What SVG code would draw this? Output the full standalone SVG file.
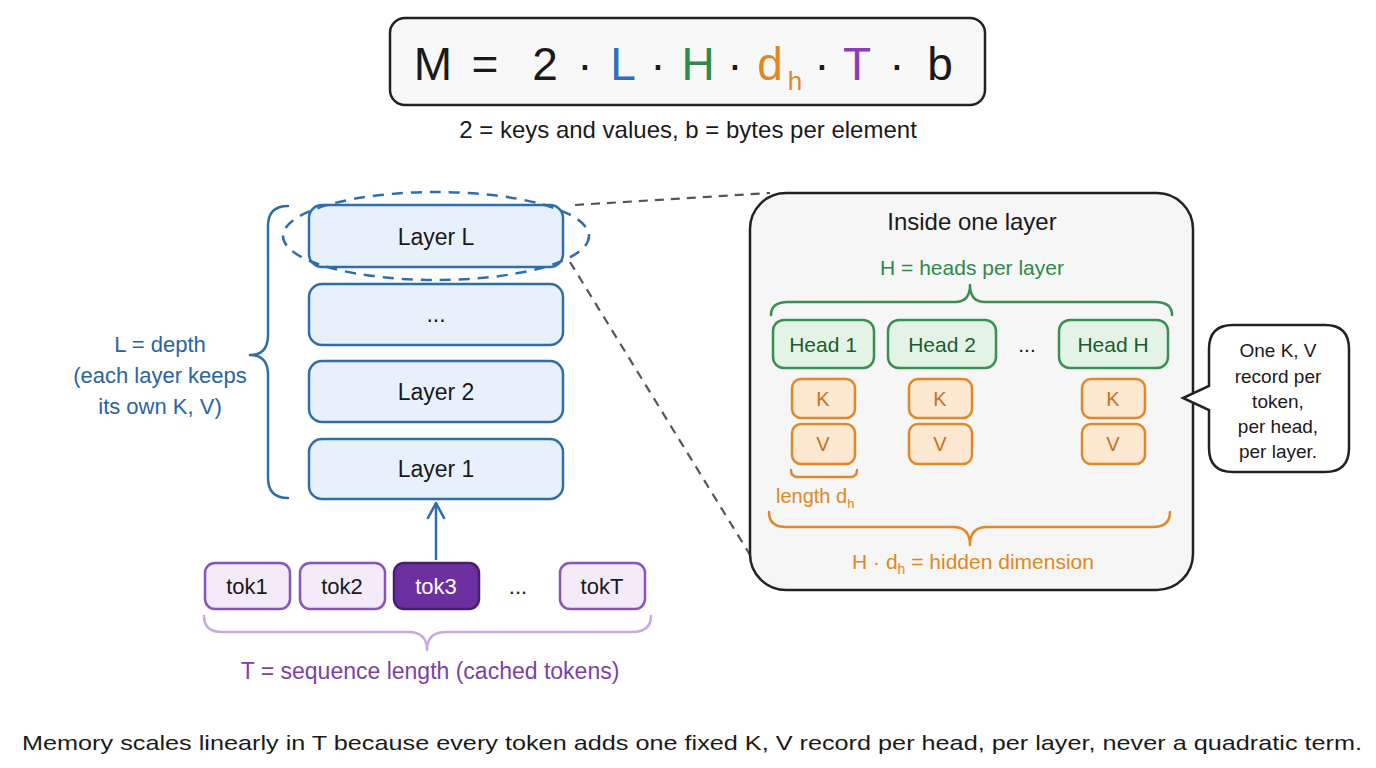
<svg xmlns="http://www.w3.org/2000/svg" width="1376" height="768" viewBox="0 0 1376 768">
<defs>
<style>
text{font-family:"Liberation Sans","Open Sans",sans-serif;fill:#1a1a1a}
.c{text-anchor:middle}
.layer rect{fill:#e8f1fb;stroke:#2f6ea8;stroke-width:2.5}
.layer text{font-size:23px}
.tok rect{fill:#f3eafa;stroke:#8a55b8;stroke-width:2.5}
.tok text{font-size:22px}
.head rect{fill:#e3f3e6;stroke:#3a8f52;stroke-width:2.5}
.head text{font-size:21px;fill:#1f5a30}
.kv rect{fill:#fde9d2;stroke:#e0882a;stroke-width:2.5}
.kv text{font-size:20px;fill:#c8701a}
.blue{fill:#2a64a0}
.green{fill:#2e8b4a}
.orange{fill:#e0881f}
.purple{fill:#7b3fa8}
.brace{fill:none;stroke-width:2.5;stroke-linecap:round;stroke-linejoin:round}
</style>
<marker id="ah" viewBox="0 0 20 20" refX="17" refY="10" markerWidth="20" markerHeight="20" markerUnits="userSpaceOnUse" orient="auto">
<path d="M2,2 L17,10 L2,18" fill="none" stroke="#2f6ea8" stroke-width="2.6" stroke-linecap="round" stroke-linejoin="round"/>
</marker>
</defs>
<rect width="1376" height="768" fill="#ffffff"/>

<g id="formula">
<rect x="390" y="18" width="595" height="87" rx="15" fill="#f8f8f8" stroke="#222" stroke-width="2.5"/>
<g font-size="46">
<text x="433" y="80" class="c">M</text>
<text x="485" y="80" class="c">=</text>
<text x="545" y="80" class="c">2</text>
<text x="585" y="80" class="c">·</text>
<text x="623" y="80" class="c" style="fill:#2a6fc0">L</text>
<text x="658" y="80" class="c">·</text>
<text x="698" y="80" class="c green">H</text>
<text x="735" y="80" class="c">·</text>
<text x="770" y="80" class="c orange">d</text>
<text x="795" y="90" font-size="26" class="c orange">h</text>
<text x="822" y="80" class="c">·</text>
<text x="857" y="80" class="c" style="fill:#8a3fb8">T</text>
<text x="897" y="80" class="c">·</text>
<text x="940" y="80" class="c">b</text>
</g>
<text x="688" y="138" font-size="24" class="c">2 = keys and values, b = bytes per element</text>
</g>

<g id="connectors">
<path d="M575,205 L770,193" fill="none" stroke="#555" stroke-width="2.2" stroke-dasharray="9,7"/>
<path d="M570,262 L752,558" fill="none" stroke="#555" stroke-width="2.2" stroke-dasharray="9,7"/>
<path d="M436,560 L436,503" fill="none" stroke="#2f6ea8" stroke-width="2.5" marker-end="url(#ah)"/>
</g>

<g id="layerL" class="layer">
<rect x="309" y="205" width="254" height="62" rx="13"/>
<text x="436" y="245" class="c">Layer L</text>
</g>
<g id="layerDots" class="layer">
<rect x="309" y="284" width="254" height="61" rx="13"/>
<text x="436" y="322" class="c">...</text>
</g>
<g id="layer2" class="layer">
<rect x="309" y="361" width="254" height="61" rx="13"/>
<text x="436" y="400" class="c">Layer 2</text>
</g>
<g id="layer1" class="layer">
<rect x="309" y="439" width="254" height="60" rx="13"/>
<text x="436" y="477" class="c">Layer 1</text>
</g>
<g id="focus">
<ellipse cx="436" cy="236" rx="153" ry="44" fill="none" stroke="#2f6ea8" stroke-width="2.5" stroke-dasharray="11,8"/>
</g>

<g id="depthBrace">
<path class="brace" stroke="#2f6ea8" d="M288,206 Q268,206 268,226 L268,335 Q268,355 250,355 Q268,355 268,375 L268,478 Q268,498 288,498"/>
<text x="160" y="352" font-size="22" class="c blue">L = depth</text>
<text x="160" y="383" font-size="22" class="c blue">(each layer keeps</text>
<text x="160" y="414" font-size="22" class="c blue">its own K, V)</text>
</g>

<g id="tok1" class="tok"><rect x="205" y="563" width="85" height="46" rx="10"/><text x="247" y="594" class="c">tok1</text></g>
<g id="tok2" class="tok"><rect x="300" y="563" width="85" height="46" rx="10"/><text x="342" y="594" class="c">tok2</text></g>
<g id="tok3" class="tok"><rect x="394" y="563" width="85" height="46" rx="10" style="fill:#6b2fa0;stroke:#4a1d75"/><text x="436" y="594" class="c" style="fill:#ffffff">tok3</text></g>
<g id="tokDots"><text x="518" y="594" font-size="22" class="c">...</text></g>
<g id="tokT" class="tok"><rect x="560" y="563" width="85" height="46" rx="10"/><text x="602" y="594" class="c">tokT</text></g>

<g id="seqBrace">
<path class="brace" stroke="#c9a9e0" d="M204,616 Q204,632 222,632 L408,632 Q427,632 427,650 Q427,632 446,632 L632,632 Q651,632 651,616"/>
<text x="430" y="679" font-size="23" class="c purple">T = sequence length (cached tokens)</text>
</g>

<g id="panel">
<rect x="750" y="193" width="443" height="397" rx="36" fill="#f5f6f5" stroke="#222" stroke-width="2.5"/>
<text x="972" y="230" font-size="24" class="c">Inside one layer</text>
<text x="972" y="275" font-size="21" class="c green">H = heads per layer</text>
<path class="brace" stroke="#3a8f52" d="M771,315 Q771,302 788,302 L955,302 Q970,302 970,285 Q970,302 985,302 L1155,302 Q1172,302 1172,315"/>
</g>

<g id="head1" class="head"><rect x="773" y="320" width="101" height="48" rx="11"/><text x="823" y="352" class="c">Head 1</text></g>
<g id="head2" class="head"><rect x="888" y="320" width="108" height="48" rx="11"/><text x="942" y="352" class="c">Head 2</text></g>
<g id="headDots"><text x="1027" y="352" font-size="21" class="c">...</text></g>
<g id="headH" class="head"><rect x="1059" y="320" width="109" height="48" rx="11"/><text x="1113" y="352" class="c">Head H</text></g>

<g id="k1" class="kv"><rect x="792" y="379" width="63" height="39" rx="9"/><text x="823" y="406" class="c">K</text></g>
<g id="v1" class="kv"><rect x="792" y="424" width="63" height="40" rx="9"/><text x="823" y="451" class="c">V</text></g>
<g id="k2" class="kv"><rect x="909" y="379" width="63" height="39" rx="9"/><text x="940" y="406" class="c">K</text></g>
<g id="v2" class="kv"><rect x="909" y="424" width="63" height="40" rx="9"/><text x="940" y="451" class="c">V</text></g>
<g id="kH" class="kv"><rect x="1082" y="379" width="63" height="39" rx="9"/><text x="1113" y="406" class="c">K</text></g>
<g id="vH" class="kv"><rect x="1082" y="424" width="63" height="40" rx="9"/><text x="1113" y="451" class="c">V</text></g>

<g id="dimBraces">
<path class="brace" stroke="#e0882a" d="M791,470 Q791,477 798,477 L850,477 Q857,477 857,470"/>
<text x="776" y="503" font-size="20" class="orange">length d<tspan font-size="13" dy="5">h</tspan></text>
<path class="brace" stroke="#e0882a" d="M769,512 Q769,527 786,527 L953,527 Q970,527 970,545 Q970,527 987,527 L1153,527 Q1170,527 1170,512"/>
<text x="973" y="569" font-size="21" class="c orange">H · d<tspan font-size="14" dy="5">h</tspan><tspan dy="-5"> = hidden dimension</tspan></text>
</g>

<g id="callout">
<path d="M1233,325 L1325,325 Q1349,325 1349,349 L1349,448 Q1349,472 1325,472 L1233,472 Q1209,472 1209,448 L1209,410 L1183,398 L1209,386 L1209,349 Q1209,325 1233,325 Z" fill="#ffffff" stroke="#222" stroke-width="2.5"/>
<text x="1278" y="357" font-size="19" class="c">One K, V</text>
<text x="1278" y="383" font-size="19" class="c">record per</text>
<text x="1278" y="408" font-size="19" class="c">token,</text>
<text x="1278" y="433" font-size="19" class="c">per head,</text>
<text x="1278" y="458" font-size="19" class="c">per layer.</text>
</g>

<g id="footer">
<text x="22" y="750" font-size="21" textLength="1340" lengthAdjust="spacingAndGlyphs">Memory scales linearly in T because every token adds one fixed K, V record per head, per layer, never a quadratic term.</text>
</g>
</svg>
